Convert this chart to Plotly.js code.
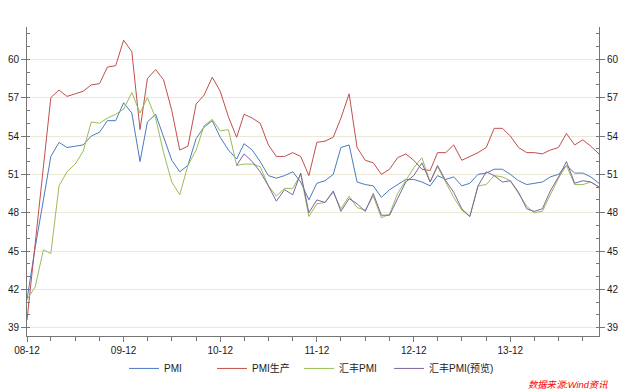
<!DOCTYPE html>
<html>
<head>
<meta charset="utf-8">
<script src="https://cdn.plot.ly/plotly-3.0.1.min.js"></script>
<style>html,body{margin:0;padding:0;background:#fff;}#chart{width:627px;height:392px;}</style>
</head>
<body>
<div id="chart"></div>
<script>
// Monthly series, Dec 2008 .. Nov 2014
var startYear = 2008, startMonth = 12, nMonths = 72;
var tickVals = ['2008-12-01','2009-12-01','2010-12-01','2011-12-01','2012-12-01','2013-12-01'];
var tickLabels = ['08-12','09-12','10-12','11-12','12-12','13-12'];
var yTicks = [39, 42, 45, 48, 51, 54, 57, 60];
var seriesNames = ['PMI', 'PMI生产', '汇丰PMI', '汇丰PMI(预览)'];

var pmi = [41.2,45.3,49.0,52.4,53.5,53.1,53.2,53.3,54.0,54.3,55.2,55.2,
           56.6,55.8,52.0,55.1,55.7,53.9,52.1,51.2,51.7,53.8,54.7,55.2,
           53.9,52.9,52.2,53.4,52.9,52.0,50.9,50.7,50.9,51.2,50.4,49.0,
           50.3,50.5,51.0,53.1,53.3,50.4,50.2,50.1,49.2,49.8,50.2,50.6,
           50.6,50.4,50.1,50.9,50.6,50.8,50.1,50.3,51.0,51.1,51.4,51.4,
           51.0,50.5,50.2,50.3,50.4,50.8,51.0,51.7,51.1,51.1,50.8,50.3];
var pmiProd = [39.6,45.5,51.8,57.0,57.6,57.1,57.3,57.5,58.0,58.1,59.4,59.5,
               61.5,60.6,54.5,58.5,59.2,58.4,56.0,52.9,53.2,56.5,57.2,58.6,
               57.5,55.5,53.9,55.7,55.4,55.0,53.3,52.4,52.4,52.7,52.4,50.9,
               53.5,53.6,53.9,55.4,57.3,53.1,52.1,51.9,51.0,51.4,52.3,52.6,
               52.1,51.4,51.3,52.7,52.7,53.3,52.1,52.4,52.7,53.1,54.6,54.6,
               54.0,53.1,52.7,52.7,52.6,52.9,53.1,54.2,53.3,53.7,53.2,52.6];
var hsbc = [41.2,42.2,45.1,44.8,50.1,51.2,51.8,52.8,55.1,55.0,55.4,55.7,
            56.1,57.4,55.8,57.0,55.4,52.7,50.4,49.4,51.7,52.9,54.8,55.3,
            54.4,54.5,51.7,51.8,51.8,51.6,50.1,49.3,49.9,49.9,51.0,47.7,
            48.7,48.8,49.6,48.3,49.3,48.4,48.2,49.3,47.6,47.9,49.5,50.5,
            51.5,52.3,50.4,51.6,50.4,49.2,48.2,47.7,50.1,50.2,50.9,50.8,
            50.5,49.5,48.5,48.0,48.1,49.4,50.7,51.7,50.2,50.2,50.4,50.0];
var hsbcFlash = [null,null,null,null,null,null,null,null,null,null,null,null,
                 null,null,null,null,null,null,null,null,null,null,null,null,
                 null,null,51.7,52.6,52.0,51.2,50.1,48.9,49.8,49.4,51.1,48.0,
                 49.0,48.8,49.7,48.1,49.1,48.7,48.1,49.5,47.8,47.8,49.1,50.4,
                 50.9,51.9,50.4,51.7,50.5,49.6,48.3,47.7,50.1,51.2,50.9,50.4,
                 50.5,49.6,48.3,48.1,48.3,49.7,50.8,52.0,50.3,50.5,50.4,50.0];

var months = [];
for (var i = 0; i < nMonths; i++) {
  var t = startYear * 12 + (startMonth - 1) + i;
  var y = Math.floor(t / 12), m = t % 12 + 1;
  months.push(y + '-' + (m < 10 ? '0' : '') + m + '-01');
}

var yRange = [38.35, 62.53];
var fontFam = 'Liberation Sans, Noto Sans CJK SC, sans-serif';

var traces = [
  {x: months, y: pmi, name: seriesNames[0], type: 'scatter', mode: 'lines', line: {color: '#4A7BC0', width: 1}, legend: 'legend'},
  {x: months, y: pmiProd, name: seriesNames[1], type: 'scatter', mode: 'lines', line: {color: '#C0504D', width: 1}, legend: 'legend2'},
  {x: months, y: hsbc, name: seriesNames[2], type: 'scatter', mode: 'lines', line: {color: '#9BBB59', width: 1}, legend: 'legend3'},
  {x: months, y: hsbcFlash, name: seriesNames[3], type: 'scatter', mode: 'lines', line: {color: '#8064A2', width: 1}, yaxis: 'y2', connectgaps: false, legend: 'legend4'}
];

var yCommon = {
  range: yRange, tickvals: yTicks, showline: true, linecolor: '#767676', linewidth: 1,
  ticks: 'outside', ticklen: 5, tickcolor: '#767676', zeroline: false,
  tickfont: {family: fontFam, size: 10, color: '#1a1a1a'},
  minor: {dtick: 1, tick0: 39, ticks: 'inside', ticklen: 3, tickcolor: '#767676', showgrid: false}
};

function legendAt(px) {
  return {
    orientation: 'h', x: (px - 27) / 572, xanchor: 'left', y: -0.058, yanchor: 'top',
    font: {family: fontFam, size: 10, color: '#222'},
    itemwidth: 30, bgcolor: 'rgba(0,0,0,0)', borderwidth: 0
  };
}

var layout = {
  width: 627, height: 392,
  margin: {l: 27, r: 28, t: 27, b: 56, autoexpand: false},
  paper_bgcolor: '#ffffff', plot_bgcolor: '#ffffff',
  font: {family: fontFam, size: 10, color: '#222'},
  showlegend: true,
  hovermode: false,
  xaxis: {
    type: 'date', range: [months[0], months[nMonths - 1]],
    tickvals: tickVals, ticktext: tickLabels, automargin: false,
    showline: true, linecolor: '#767676', linewidth: 1,
    ticks: 'outside', ticklen: 5, tickcolor: '#767676',
    showgrid: false, zeroline: false,
    tickfont: {family: fontFam, size: 10, color: '#1a1a1a'},
    minor: {dtick: 'M3', tick0: '2008-12-01', ticks: 'outside', ticklen: 4, tickcolor: '#767676', showgrid: false}
  },
  yaxis: Object.assign({}, yCommon, {side: 'left', automargin: false, showgrid: true, gridcolor: '#ECE9D8', gridwidth: 1}),
  yaxis2: Object.assign({}, yCommon, {side: 'right', automargin: false, overlaying: 'y', showgrid: false}),
  legend: legendAt(124),
  legend2: legendAt(212),
  legend3: legendAt(299),
  legend4: legendAt(389),
  annotations: [{
    text: '<i>数据来源:Wind资讯</i>', xref: 'paper', yref: 'paper',
    x: 1.02, xanchor: 'right', y: -0.158, yanchor: 'middle', showarrow: false,
    font: {family: fontFam, size: 9.3, color: '#FF0000'}
  }]
};

Plotly.newPlot('chart', traces, layout, {displayModeBar: false, staticPlot: true});
</script>
</body>
</html>
